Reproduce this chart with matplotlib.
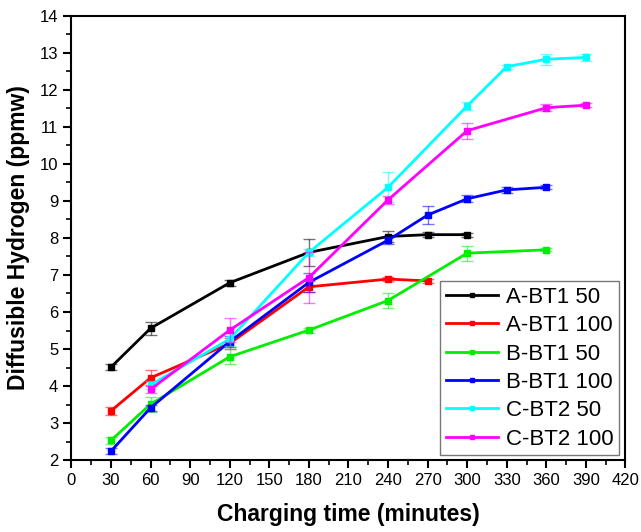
import matplotlib.pyplot as plt
from matplotlib.ticker import MultipleLocator

plt.rcParams['font.family'] = ['Liberation Sans Narrow', 'Liberation Sans', 'DejaVu Sans']

# charging time (minutes) and diffusible hydrogen (ppmw) per series
t_a50 = [30, 60, 120, 180, 240, 270, 300]
h_a50 = [4.51, 5.56, 6.79, 7.61, 8.04, 8.09, 8.09]
e_a50 = [0.08, 0.18, 0.08, 0.37, 0.15, 0.07, 0.05]

t_a100 = [30, 60, 120, 180, 240, 270]
h_a100 = [3.33, 4.22, 5.15, 6.68, 6.89, 6.84]
e_a100 = [0.10, 0.20, 0.15, 0.15, 0.05, 0.05]

t_b50 = [30, 60, 120, 180, 240, 300, 360]
h_b50 = [2.53, 3.51, 4.79, 5.51, 6.31, 7.59, 7.68]
e_b50 = [0.10, 0.20, 0.20, 0.07, 0.20, 0.20, 0.04]

t_b100 = [30, 60, 120, 180, 240, 270, 300, 330, 360]
h_b100 = [2.24, 3.41, 5.20, 6.80, 7.94, 8.62, 9.06, 9.30, 9.37]
e_b100 = [0.08, 0.08, 0.15, 0.25, 0.10, 0.25, 0.10, 0.08, 0.05]

t_c50 = [60, 120, 180, 240, 300, 330, 360, 390]
h_c50 = [4.03, 5.27, 7.61, 9.37, 11.57, 12.63, 12.83, 12.88]
e_c50 = [0.10, 0.20, 0.10, 0.40, 0.10, 0.05, 0.15, 0.10]

t_c100 = [60, 120, 180, 240, 300, 360, 390]
h_c100 = [3.91, 5.51, 6.93, 9.03, 10.90, 11.52, 11.59]
e_c100 = [0.10, 0.32, 0.69, 0.10, 0.22, 0.10, 0.05]

series = [
    ('A-BT1 50', t_a50, h_a50, e_a50, 'black'),
    ('A-BT1 100', t_a100, h_a100, e_a100, '#ff0000'),
    ('B-BT1 50', t_b50, h_b50, e_b50, '#00ee00'),
    ('B-BT1 100', t_b100, h_b100, e_b100, '#0000ff'),
    ('C-BT2 50', t_c50, h_c50, e_c50, '#00ffff'),
    ('C-BT2 100', t_c100, h_c100, e_c100, '#ff00ff'),
]

fig = plt.figure(figsize=(6.41, 5.32), dpi=100)
ax = fig.add_axes([0.1114, 0.1353, 0.8644, 0.8347])

for name, t, h, e, c in series:
    ax.errorbar(t, h, yerr=e, fmt='none', ecolor=c, alpha=0.55,
                elinewidth=1.0, capsize=4, capthick=1.0)
    ax.plot(t, h, '-s', color=c, lw=2, ms=5, label=name)

ax.set_xlim(0, 420)
ax.set_ylim(2, 14)
ax.xaxis.set_major_locator(MultipleLocator(30))
ax.xaxis.set_minor_locator(MultipleLocator(15))
ax.yaxis.set_major_locator(MultipleLocator(1))
ax.yaxis.set_minor_locator(MultipleLocator(0.5))
ax.tick_params(which='major', direction='out', length=6, width=1.5, labelsize=12)
ax.tick_params(which='minor', direction='out', length=3.5, width=1.2)
for s in ax.spines.values():
    s.set_linewidth(1.5)

ax.set_xlabel('Charging time (minutes)', fontsize=16.5, fontweight='bold',
              family=['Liberation Sans', 'DejaVu Sans'], labelpad=11)
ax.set_ylabel('Diffusible Hydrogen (ppmw)', fontsize=16.5, fontweight='bold',
              family=['Liberation Sans', 'DejaVu Sans'], labelpad=7)

leg = ax.legend(loc='lower right', bbox_to_anchor=(0.988, 0.011), frameon=True,
                fancybox=False, edgecolor='#555555', handlelength=2.35,
                handletextpad=0.35, labelspacing=0.33, borderpad=0.25,
                borderaxespad=0, markerscale=0.7,
                prop={'family': ['Liberation Sans', 'DejaVu Sans'], 'size': 16})
leg.get_frame().set_linewidth(1.0)

fig.savefig('out.png', dpi=100)
